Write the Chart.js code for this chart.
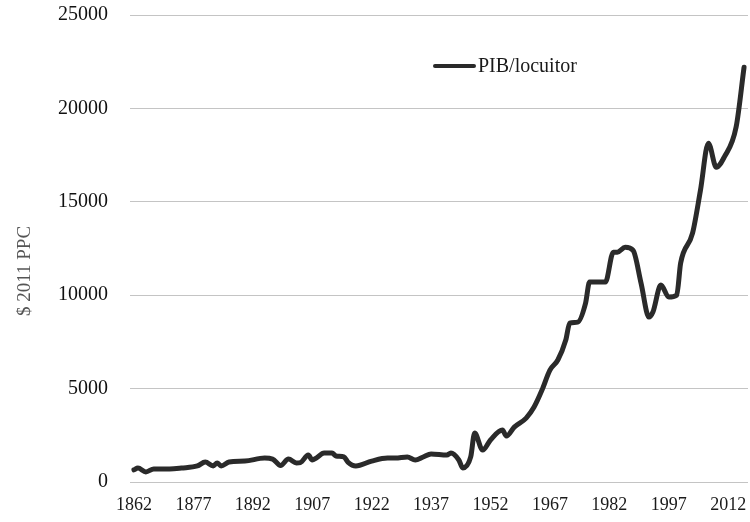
<!DOCTYPE html>
<html>
<head>
<meta charset="utf-8">
<script src="https://cdn.jsdelivr.net/npm/chart.js@4/dist/chart.umd.min.js"></script>
<style>
  html, body { margin: 0; padding: 0; background: #fff; }
  #wrap { width: 750px; height: 522px; position: relative; }
</style>
</head>
<body>
<div id="wrap"><canvas id="chart"></canvas></div>
<script>
// values (years are not evenly spaced)
var years = [
  1862, 1863, 1865, 1867, 1871, 1874, 1878, 1880, 1882, 1883, 1884, 1886,
  1890, 1895, 1897, 1899, 1901, 1903, 1904, 1906, 1907, 1908, 1910, 1912,
  1913, 1915, 1916, 1918, 1922, 1926, 1928, 1931, 1933, 1935, 1937, 1941,
  1942, 1944, 1945, 1947, 1948, 1950, 1952, 1955, 1956, 1958, 1961, 1963,
  1965, 1967, 1969, 1971, 1972, 1974, 1976, 1977, 1981, 1983, 1984, 1986,
  1988, 1990, 1992, 1993, 1995, 1997, 1999, 2000, 2003, 2005, 2007, 2009,
  2011, 2014, 2016
];
var gdpPerCapita = [
  650, 750, 540, 700, 700, 750, 860, 1070, 860, 1020, 860, 1070,
  1120, 1280, 1230, 880, 1230, 1020, 1040, 1440, 1180, 1280, 1550, 1550,
  1390, 1340, 1070, 860, 1120, 1280, 1280, 1340, 1180, 1340, 1500, 1440,
  1550, 1180, 750, 1340, 2620, 1710, 2250, 2780, 2460, 2940, 3420, 4010,
  4920, 5990, 6530, 7600, 8500, 8560, 9580, 10700, 10700, 12300, 12300, 12570,
  12400, 10650, 8830, 9100, 10540, 9900, 10000, 11720, 13320, 15620, 18140, 16850,
  17390, 19000, 22200
];
var seriesName = "PIB/locuitor";
var yAxisTitle = "$ 2011 PPC";
var xTickYears = [1862, 1877, 1892, 1907, 1922, 1937, 1952, 1967, 1982, 1997, 2012];
var yTicks = [0, 5000, 10000, 15000, 20000, 25000];

var serif = "'Liberation Serif', 'DejaVu Serif', serif";
var lineColor = "#2a2a2a";

var extras = {
  id: "extras",
  afterDraw: function (chart) {
    var ctx = chart.ctx;
    var area = chart.chartArea;
    ctx.save();
    // legend inside the plot
    var lx = area.left + 305, ly = area.top + 51;
    ctx.strokeStyle = lineColor;
    ctx.lineWidth = 4;
    ctx.lineCap = "round";
    ctx.beginPath();
    ctx.moveTo(lx, ly);
    ctx.lineTo(lx + 39, ly);
    ctx.stroke();
    ctx.fillStyle = "#1a1a1a";
    ctx.font = "20px " + serif;
    ctx.textBaseline = "middle";
    ctx.textAlign = "left";
    ctx.fillText(seriesName, lx + 43, ly + 1);
    // y axis title
    ctx.translate(25, 271);
    ctx.rotate(-Math.PI / 2);
    ctx.fillStyle = "#555";
    ctx.font = "19px " + serif;
    ctx.textAlign = "center";
    ctx.fillText(yAxisTitle, 0, 0);
    ctx.restore();
  },
};

new Chart(document.getElementById("chart"), {
  type: "line",
  data: {
    datasets: [
      {
        label: seriesName,
        data: years.map((y, i) => ({ x: y, y: gdpPerCapita[i] })),
        borderColor: lineColor,
        borderWidth: 5,
        borderCapStyle: "round",
        borderJoinStyle: "round",
        pointRadius: 0,
        cubicInterpolationMode: "monotone",
        fill: false,
      },
    ],
  },
  options: {
    responsive: true,
    maintainAspectRatio: false,
    animation: false,
    layout: { padding: { top: 0, right: 2, left: 0, bottom: 0 } },
    plugins: {
      legend: { display: false },
      tooltip: { enabled: false },
    },
    scales: {
      x: {
        type: "linear",
        min: 1861,
        max: 2017,
        afterBuildTicks: function (scale) {
          scale.ticks = xTickYears.map((v) => ({ value: v }));
        },
        afterFit: function (scale) {
          scale.height = 40;
          scale.paddingLeft = 0;
          scale.paddingRight = 0;
        },
        grid: { display: false, drawTicks: false },
        border: { display: false },
        ticks: {
          autoSkip: false,
          maxRotation: 0,
          padding: 12,
          color: "#1a1a1a",
          font: { family: serif, size: 18 },
          callback: (v) => String(v),
        },
      },
      y: {
        min: 0,
        max: 25000,
        afterBuildTicks: function (scale) {
          scale.ticks = yTicks.map((v) => ({ value: v }));
        },
        afterFit: function (scale) {
          scale.width = 130;
          scale.paddingTop = 15;
          scale.paddingBottom = 0;
        },
        grid: { color: "#c4c4c4", lineWidth: 1, drawTicks: false },
        border: { display: false },
        ticks: {
          padding: 22,
          color: "#111",
          font: { family: serif, size: 20 },
          callback: (v) => String(v),
        },
      },
    },
  },
  plugins: [extras],
});
</script>
</body>
</html>
